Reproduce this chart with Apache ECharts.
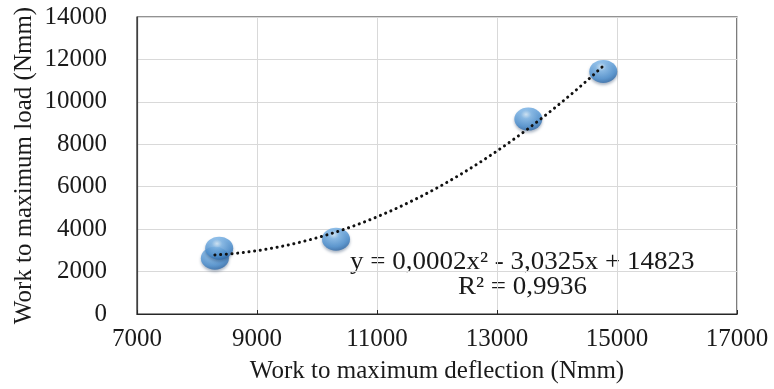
<!DOCTYPE html>
<html>
<head>
<meta charset="utf-8">
<script src="https://cdn.jsdelivr.net/npm/echarts@6/dist/echarts.min.js"></script>
<style>
  html, body { margin: 0; padding: 0; background: #fff; }
  #chart { width: 774px; height: 389px; }
</style>
</head>
<body>
<div id="chart"></div>
<script>
// Work to maximum deflection (x) vs work to maximum load (y), both in Nmm
const deflectionWork = [8298, 8370, 10317, 13522, 14771];
const loadWork = [2630, 3100, 3525, 9190, 11435];

const xTicks = { min: 7000, max: 17000, step: 2000 };
const yTicks = { min: 0, max: 14000, step: 2000 };

const equationText = 'y = 0,0002x² - 3,0325x + 14823';
const rSquaredText = 'R² = 0,9936';

// Least-squares quadratic fit of the measured points
function quadFit(xs, ys) {
  const n = xs.length;
  let s = [0, 0, 0, 0, 0], t = [0, 0, 0];
  for (let i = 0; i < n; i++) {
    let p = 1;
    for (let k = 0; k <= 4; k++) { s[k] += p; if (k <= 2) t[k] += p * ys[i]; p *= xs[i]; }
  }
  const M = [[s[0], s[1], s[2], t[0]], [s[1], s[2], s[3], t[1]], [s[2], s[3], s[4], t[2]]];
  for (let c = 0; c < 3; c++) {
    let piv = c;
    for (let r = c + 1; r < 3; r++) if (Math.abs(M[r][c]) > Math.abs(M[piv][c])) piv = r;
    [M[c], M[piv]] = [M[piv], M[c]];
    for (let r = 0; r < 3; r++) {
      if (r === c) continue;
      const f = M[r][c] / M[c][c];
      for (let k = c; k < 4; k++) M[r][k] -= f * M[c][k];
    }
  }
  return [M[0][3] / M[0][0], M[1][3] / M[1][1], M[2][3] / M[2][2]];
}

const coef = quadFit(deflectionWork, loadWork);
const xLo = Math.min(...deflectionWork), xHi = Math.max(...deflectionWork);
const trend = [];
for (let i = 0; i <= 80; i++) {
  const x = xLo + (xHi - xLo) * i / 80;
  trend.push([x, coef[0] + coef[1] * x + coef[2] * x * x]);
}

const font = '"Liberation Serif", "Times New Roman", serif';
const ink = '#1a1a1a';
const plain = v => String(v);

const chart = echarts.init(document.getElementById('chart'), null, { renderer: 'canvas' });
chart.setOption({
  animation: false,
  backgroundColor: '#ffffff',
  grid: {
    left: 137, right: 37, top: 17, bottom: 75,
    show: true, borderColor: '#262626', borderWidth: 1.2, backgroundColor: 'transparent'
  },
  xAxis: {
    type: 'value',
    min: xTicks.min, max: xTicks.max, interval: xTicks.step,
    name: 'Work to maximum deflection (Nmm)',
    nameLocation: 'middle', nameGap: 45, nameMoveOverlap: false,
    nameTextStyle: { fontFamily: font, fontSize: 25, color: ink },
    axisLine: { show: true, lineStyle: { color: '#262626', width: 1.2 } },
    axisTick: { show: true, inside: true, length: 4, lineStyle: { color: '#262626' } },
    axisLabel: { fontFamily: font, fontSize: 25, color: ink, margin: 13, formatter: plain },
    splitLine: { show: true, lineStyle: { color: '#d9d9d9', width: 1 } }
  },
  yAxis: {
    type: 'value',
    min: yTicks.min, max: yTicks.max, interval: yTicks.step,
    name: 'Work to maximum load (Nmm)',
    nameLocation: 'middle', nameGap: 100, nameMoveOverlap: false,
    nameTextStyle: { fontFamily: font, fontSize: 25, color: ink },
    axisLine: { show: true, lineStyle: { color: '#404040', width: 1.2 } },
    axisTick: { show: false },
    axisLabel: { fontFamily: font, fontSize: 25, color: ink, margin: 30, formatter: plain },
    splitLine: { show: true, lineStyle: { color: '#d9d9d9', width: 1 } }
  },
  series: [
    {
      type: 'line',
      data: trend,
      showSymbol: false,
      symbol: 'none',
      lineStyle: { color: '#111', width: 3, type: [0.1, 5.6], cap: 'round' },
      z: 3
    },
    {
      type: 'scatter',
      data: deflectionWork.map((x, i) => [x, loadWork[i]]),
      symbol: 'circle',
      symbolSize: [28, 23],
      itemStyle: {
        color: {
          type: 'radial', x: 0.42, y: 0.3, r: 0.75,
          colorStops: [
            { offset: 0, color: '#d6ecfc' },
            { offset: 0.25, color: '#7fb8ea' },
            { offset: 0.7, color: '#4a8fd0' },
            { offset: 1, color: '#2a62a0' }
          ]
        },
        shadowColor: 'rgba(20,50,90,0.45)',
        shadowBlur: 3,
        shadowOffsetY: 2
      },
      z: 2
    }
  ],
  graphic: [
    {
      type: 'text', left: 350, top: 250, scaleX: 1.08,
      style: { text: equationText, font: '25px ' + font, fill: ink }
    },
    {
      type: 'text', left: 458, top: 275, scaleX: 1.08,
      style: { text: rSquaredText, font: '25px ' + font, fill: ink }
    }
  ]
});
</script>
</body>
</html>
